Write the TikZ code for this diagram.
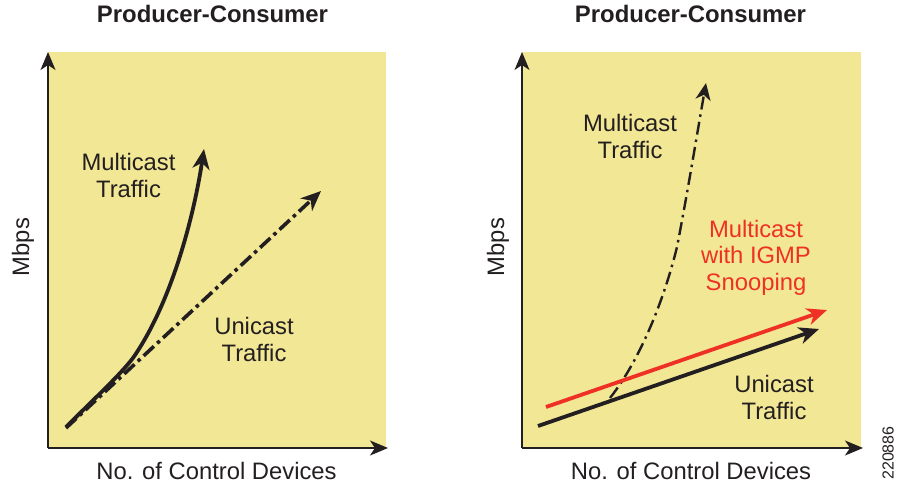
\documentclass[tikz,border=0pt]{standalone}
\usepackage{fontspec}
\setmainfont{Liberation Sans}
\usetikzlibrary{arrows.meta}
\definecolor{panelyellow}{HTML}{F2E795}
\definecolor{inkblack}{HTML}{231F20}
\definecolor{snoopred}{HTML}{EE3124}
\tikzset{
  panel/.style={fill=panelyellow,draw=none},
  axisline/.style={draw=inkblack,fill=inkblack,line width=1.2pt,-{Stealth[length=18pt,width=15pt,inset=5pt]}},
  curveline/.style={draw=inkblack,line width=3.8pt,line cap=butt,-{Stealth[length=20pt,width=17pt,inset=6pt]}},
  dashdotline/.style={curveline,line width=3.6pt,dash pattern=on 14pt off 4.5pt on 3.5pt off 4.5pt},
  thindash/.style={draw=inkblack,line width=2.4pt,dash pattern=on 13pt off 5pt on 2.5pt off 5pt,-{Stealth[length=17pt,width=15pt,inset=5pt]}},
  redline/.style={draw=snoopred,line width=3.8pt,-{Stealth[length=20pt,width=17pt,inset=6pt]}},
  label/.style={text=inkblack,font=\fontsize{23.8}{26.4}\selectfont,align=center,inner sep=0pt},
  title/.style={text=inkblack,font=\fontsize{23.9}{26}\selectfont\bfseries,inner sep=0pt},
}
\begin{document}
\begin{tikzpicture}[x=1pt,y=-1pt]
\useasboundingbox (0,0) rectangle (897,485);
% left panel
\node[panel,minimum width=338pt,minimum height=396pt,inner sep=0pt,anchor=north west] (lp) at (48,52) {};
\coordinate (lo) at (48,448);
\coordinate (ly) at (48,52);
\coordinate (lx) at (388,448);
\draw[axisline] (lo) -- (ly);
\draw[axisline] (lo) -- (lx);
\coordinate (lus) at (66,428);
\coordinate (lue) at (321,191);
\coordinate (lms) at (66,427);
\coordinate (lme) at (204,149);
\draw[dashdotline] (lus) -- (lue);
\draw[curveline] (lms) .. controls (95,398) and (120,375) .. (133,358)
  .. controls (172,302) and (194,215) .. (lme);
\node[title] (lt) at (212.5,14) {Producer-Consumer};
\node[label,text height=17pt] (lmt) at (128.5,189) {Multicast\\Traffic};
\node[label,text height=17pt] (lut) at (254,353) {Unicast\\Traffic};
\node[label,rotate=90] (lyl) at (23,247) {Mbps};
\node[label] (lxl) at (216.5,471) {No. of Control Devices};
% right panel
\node[panel,minimum width=339pt,minimum height=396pt,inner sep=0pt,anchor=north west] (rp) at (522,52) {};
\coordinate (ro) at (522,448);
\coordinate (ry) at (522,52);
\coordinate (rx) at (863,448);
\draw[axisline] (ro) -- (ry);
\draw[axisline] (ro) -- (rx);
\coordinate (rms) at (610,398);
\coordinate (rme) at (706,83);
\coordinate (rrs) at (546,407);
\coordinate (rre) at (827,310);
\coordinate (rus) at (538,426);
\coordinate (rue) at (819,329);
\draw[thindash] (rms) .. controls (640,360) and (664,300) .. (677,247)
  .. controls (688,190) and (696,140) .. (rme);
\draw[curveline] (rus) -- (rue);
\draw[redline] (rrs) -- (rre);
\node[title] (rt) at (690.5,14) {Producer-Consumer};
\node[label,text height=17pt] (rmt) at (630,150) {Multicast\\Traffic};
\node[label,text height=17pt,text=snoopred] (rrt) at (756,284) {Multicast\\with IGMP\\Snooping};
\node[label,text height=17pt] (rut) at (774,411) {Unicast\\Traffic};
\node[label,rotate=90] (ryl) at (498,247) {Mbps};
\node[label] (rxl) at (691,471) {No. of Control Devices};
\node[label,rotate=90,font=\fontsize{16}{18}\selectfont] (num) at (888,453) {220886};
\end{tikzpicture}
\end{document}
